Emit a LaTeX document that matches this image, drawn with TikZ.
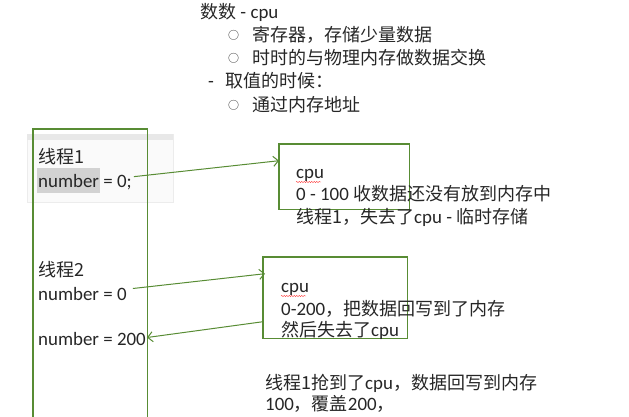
\documentclass[tikz,border=0pt]{standalone}
\usepackage{fontspec}
\setmainfont{Carlito}[Scale=1.05]
\newfontfamily\cjk{Noto Sans CJK SC}
\newcommand{\zh}[1]{{\cjk #1}}
\usetikzlibrary{arrows.meta,decorations.pathmorphing}
\definecolor{boxgreen}{RGB}{88,140,52}

\begin{document}
\begin{tikzpicture}[x=1pt,y=-1pt,
    every node/.style={font=\fontsize{18}{22}\selectfont,text=black!85,inner sep=0pt,anchor=base west},
    cpubox/.style={anchor=north west},
    frame/.style={boxgreen,line width=1.1pt},
    bullet/.style={font=\fontsize{11}{13}\selectfont},
    link/.style={boxgreen,line width=1pt,-{Straight Barb[length=5pt,width=10pt]}},
    squiggle/.style={red!80,decorate,decoration={snake,amplitude=0.6pt,segment length=2.5pt}}]
    \useasboundingbox (0,0) rectangle (629,416);
    \clip (0,0) rectangle (629,416);

    \node (title) at (200,18) {\zh{数数} - cpu};
    \node[bullet] (bA) at (228,39) {\zh{○}};
    \node (lA) at (252,41) {\zh{寄存器，存储少量数据}};
    \node[bullet] (bB) at (228,62) {\zh{○}};
    \node (lB) at (252,64) {\zh{时时的与物理内存做数据交换}};
    \node (dash) at (208,87) {-};
    \node (lC) at (225,87) {\zh{取值的时候：}};
    \node[bullet] (bC) at (228,109) {\zh{○}};
    \node (lD) at (252,111) {\zh{通过内存地址}};

    \fill[gray!4] (27,134) rectangle (173,202);
    \draw[gray!15] (27,134) rectangle (173,202);
    \fill[gray!18] (27,134) rectangle (173,140);
    \node[cpubox,minimum width=114,minimum height=300] (col) at (33,129) {};
    \draw[frame] (col.south west) |- (col.north east) -- (col.south east);
    \fill[gray!35] (37,168) rectangle (100,193);

    \node (tA) at (38,163) {\zh{线程1}};
    \node (nA) at (38,187) {number = 0;};
    \node (tB) at (38,276) {\zh{线程2}};
    \node (nB) at (38,300) {number = 0};
    \node (nC) at (38,345) {number = 200};

    \node[cpubox,minimum width=130,minimum height=65] (boxA) at (279,144) {};
    \draw[frame] (boxA.north west) rectangle (boxA.south east);
    \node (cA) at (296,178) {cpu};
    \draw[squiggle] (296,182) -- (321,182);
    \node (dA) at (296,200) {0 - 100 \zh{收数据还没有放到内存中}};
    \node (eA) at (296,223) {\zh{线程1，失去了}cpu - \zh{临时存储}};

    \node[cpubox,minimum width=144,minimum height=81] (boxB) at (263,257) {};
    \draw[frame] (boxB.north west) rectangle (boxB.south east);
    \node (cB) at (281,292) {cpu};
    \draw[squiggle] (281,296) -- (306,296);
    \node (dB) at (281,315) {0-200\zh{，把数据回写到了内存}};
    \node (eB) at (281,336) {\zh{然后失去了}cpu};

    \node (fA) at (265,389) {\zh{线程1抢到了}cpu\zh{，数据回写到内存}};
    \node (fB) at (265,410) {100\zh{，覆盖}200\zh{，}};

    \draw[link] ([xshift=2pt,yshift=5pt]nA.east) -- ([yshift=16pt]boxA.west);
    \draw[link] ([xshift=6pt,yshift=5pt]nB.east) -- ([xshift=2pt,yshift=24pt]boxB.west);
    \draw[link] ([yshift=-24pt]boxB.west) -- ([xshift=1pt,yshift=1pt]nC.east);
  \end{tikzpicture}
\end{document}
